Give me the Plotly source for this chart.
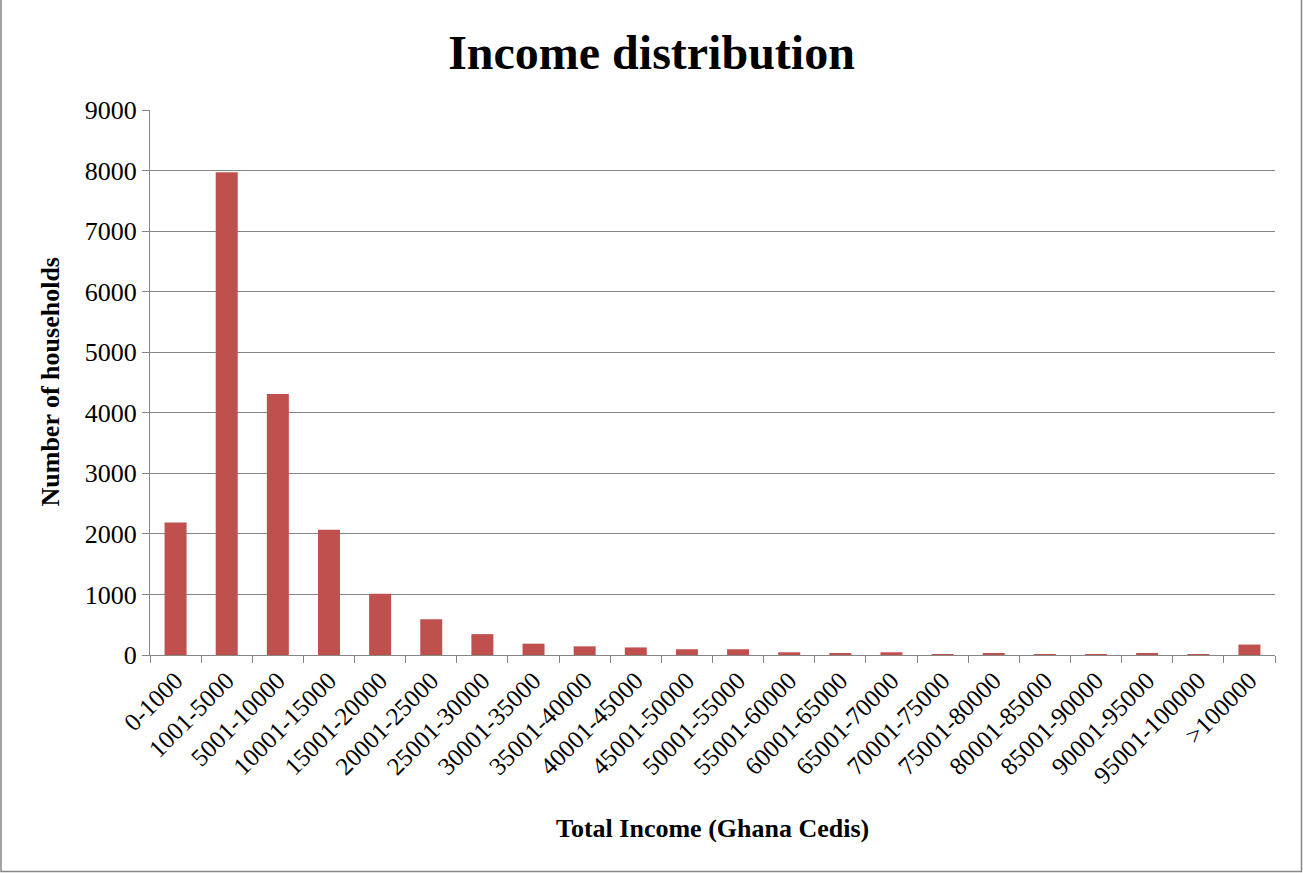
import plotly.graph_objects as go

categories = ["0-1000", "1001-5000", "5001-10000", "10001-15000", "15001-20000",
              "20001-25000", "25001-30000", "30001-35000", "35001-40000", "40001-45000",
              "45001-50000", "50001-55000", "55001-60000", "60001-65000", "65001-70000",
              "70001-75000", "75001-80000", "80001-85000", "85001-90000", "90001-95000",
              "95001-100000", ">100000"]
households = [2190, 7970, 4310, 2070, 1010, 590, 345, 187, 143, 125,
              95, 95, 45, 30, 45, 15, 25, 10, 8, 25, 5, 172]

W, H = 1303, 873
L, R, T, B = 150, 28, 110, 218
pw, ph = W - L - R, H - T - B

fig = go.Figure(go.Bar(x=categories, y=households, marker_color="#C0504D",
                       marker_line_width=0, width=0.43))

serif = "Liberation Serif, Times New Roman, serif"
fig.update_layout(
    width=W, height=H,
    margin=dict(l=L, r=R, t=T, b=B),
    paper_bgcolor="white", plot_bgcolor="white",
    font=dict(family=serif, size=26, color="black"),
    showlegend=False,
    title=dict(text="<b>Income distribution</b>", x=0.5, xanchor="center",
               y=1 - 52 / H, yanchor="middle", font=dict(size=48, family=serif)),
)
fig.update_xaxes(type="category", tickangle=-45, tickson="boundaries",
                 ticks="outside", ticklen=7, tickcolor="#868686",
                 showline=True, linecolor="#868686", linewidth=1,
                 showgrid=False, tickfont=dict(size=25))
fig.update_yaxes(range=[0, 9000], dtick=1000, ticks="outside", ticklen=7,
                 tickcolor="#868686", showline=True, linecolor="#868686",
                 linewidth=1, showgrid=True, gridcolor="#868686", gridwidth=1,
                 zeroline=False, tickfont=dict(size=26))

fig.add_annotation(text="<b>Total Income (Ghana Cedis)</b>", xref="paper", yref="paper",
                   x=(712 - L) / pw, y=-(828 - (T + ph)) / ph, showarrow=False,
                   font=dict(size=26, family=serif), xanchor="center", yanchor="middle")
fig.add_annotation(text="<b>Number of households</b>", xref="paper", yref="paper",
                   x=(50 - L) / pw, y=0.5, textangle=-90, showarrow=False,
                   font=dict(size=26, family=serif), xanchor="center", yanchor="middle")

fig.add_shape(type="rect", xref="paper", yref="paper",
              x0=(1 - L) / pw, x1=(W - 1.5 - L) / pw,
              y0=-(H - 1.5 - T - ph) / ph, y1=(H - T - 1) / ph,
              line=dict(color="#868686", width=1.5), fillcolor="rgba(0,0,0,0)", layer="below")

fig.write_html("out.html", config={"displayModeBar": False},
               post_script="document.body.style.margin='0';")
